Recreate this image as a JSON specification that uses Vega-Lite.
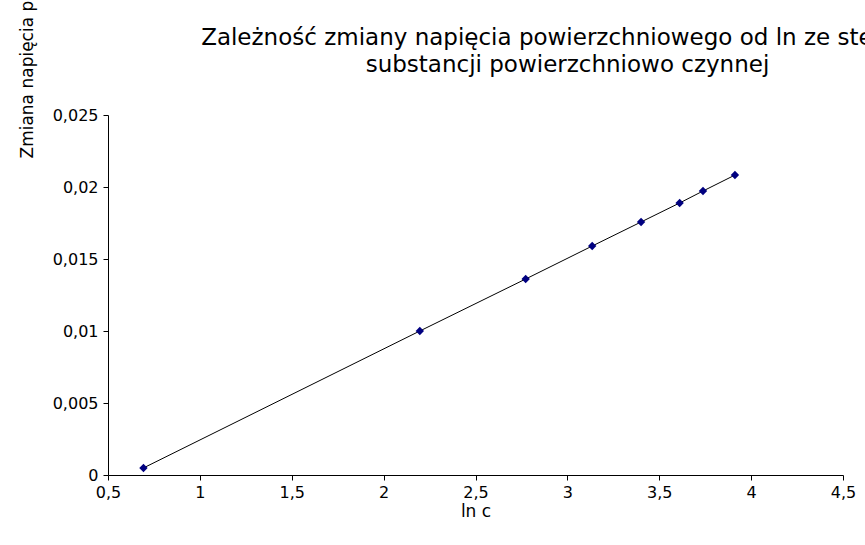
{
  "$schema": "https://vega.github.io/schema/vega-lite/v6.json",
  "width": 735,
  "height": 360,
  "autosize": {"type": "none"},
  "padding": {"left": 108, "top": 115, "right": 22, "bottom": 70},
  "background": "white",
  "config": {
    "font": "DejaVu Sans",
    "view": {"stroke": null},
    "axis": {"grid": false, "domainColor": "black", "tickColor": "black", "tickSize": 5, "labelColor": "black", "titleColor": "black", "labelFont": "DejaVu Sans", "titleFont": "DejaVu Sans", "labelFontSize": 16, "titleFontSize": 17, "titleFontWeight": "normal"}
  },
  "title": {
    "text": ["Zależność zmiany napięcia powierzchniowego od ln ze stężenia", "substancji powierzchniowo czynnej"],
    "frame": "group",
    "anchor": "middle",
    "dx": 92,
    "dy": 234,
    "offset": 10,
    "font": "DejaVu Sans",
    "fontSize": 23,
    "fontWeight": "normal",
    "color": "black",
    "lineHeight": 27
  },
  "data": {
    "values": [
      {"lnc": 0.693, "dg": 0.00049},
      {"lnc": 2.197, "dg": 0.0100},
      {"lnc": 2.773, "dg": 0.01361},
      {"lnc": 3.135, "dg": 0.01590},
      {"lnc": 3.401, "dg": 0.01757},
      {"lnc": 3.611, "dg": 0.01889},
      {"lnc": 3.738, "dg": 0.01972},
      {"lnc": 3.912, "dg": 0.02083}
    ]
  },
  "encoding": {
    "x": {
      "field": "lnc", "type": "quantitative",
      "scale": {"domain": [0.5, 4.5], "nice": false, "zero": false},
      "axis": {"title": "ln c", "values": [0.5, 1, 1.5, 2, 2.5, 3, 3.5, 4, 4.5], "labelExpr": "replace(format(datum.value, '~g'), '.', ',')", "labelPadding": 4, "titlePadding": 3, "labelFlush": false, "labelOverlap": false}
    },
    "y": {
      "field": "dg", "type": "quantitative",
      "scale": {"domain": [0, 0.025], "nice": false},
      "axis": {"title": "Zmiana napięcia powierzchniowego", "values": [0, 0.005, 0.01, 0.015, 0.02, 0.025], "labelExpr": "replace(format(datum.value, '~g'), '.', ',')", "labelPadding": 5, "titleAngle": 270, "titleAlign": "left", "titleBaseline": "middle", "titleX": -81, "titleY": 43, "labelOverlap": false}
    }
  },
  "layer": [
    {"mark": {"type": "line", "color": "black", "strokeWidth": 1}},
    {"mark": {"type": "point", "shape": "diamond", "filled": true, "color": "#000080", "opacity": 1, "size": 70}}
  ]
}
